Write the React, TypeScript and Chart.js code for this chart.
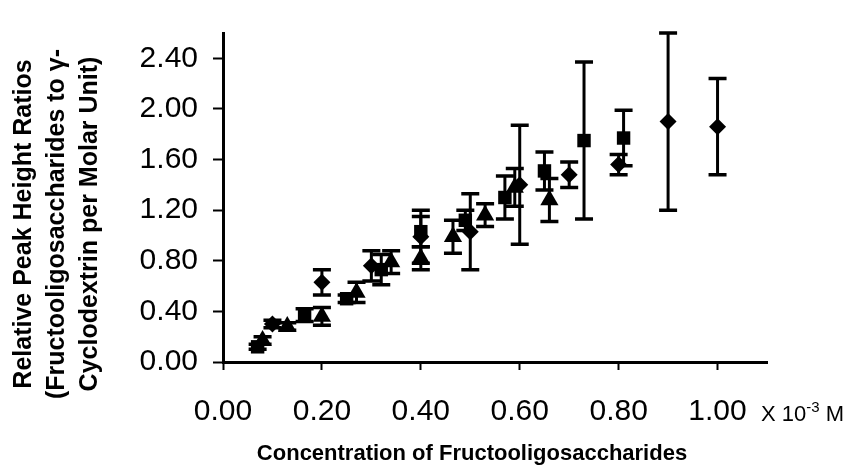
import React, { useEffect, useRef } from 'react';
import { Chart, registerables } from 'chart.js';
Chart.register(...registerables);

const xTickValues = [0, 0.2, 0.4, 0.6, 0.8, 1.0];
const yTickValues = [0, 0.4, 0.8, 1.2, 1.6, 2.0, 2.4];

const diamondX = [0.10, 0.20, 0.30, 0.40, 0.50, 0.60, 0.70, 0.80, 0.90, 1.00];
const diamondY = [0.30, 0.63, 0.76, 0.99, 1.03, 1.40, 1.48, 1.56, 1.90, 1.86];
const diamondErr = [0.03, 0.10, 0.12, 0.21, 0.30, 0.47, 0.10, 0.08, 0.70, 0.38];

const squareX = [0.07, 0.165, 0.25, 0.32, 0.40, 0.49, 0.57, 0.65, 0.73, 0.81];
const squareY = [0.12, 0.37, 0.50, 0.73, 1.03, 1.12, 1.30, 1.51, 1.75, 1.77];
const squareErr = [0.02, 0.05, 0.03, 0.12, 0.12, 0.08, 0.17, 0.15, 0.62, 0.22];

const triangleX = [0.08, 0.13, 0.20, 0.27, 0.34, 0.40, 0.465, 0.53, 0.59, 0.66];
const triangleY = [0.17, 0.28, 0.36, 0.55, 0.79, 0.82, 0.99, 1.16, 1.38, 1.28];
const triangleErr = [0.03, 0.03, 0.07, 0.08, 0.09, 0.09, 0.13, 0.09, 0.15, 0.17];

const yTitleLines = ['Relative Peak Height Ratios', '(Fructooligosaccharides to \u03B3-', 'Cyclodextrin per Molar Unit)'];
const xTitle = 'Concentration of Fructooligosaccharides';

const FONT = '"Liberation Sans", Arial, Helvetica, sans-serif';

const errorBars = {
  id: 'errorBars',
  beforeDatasetsDraw(chart: any) {
    const { ctx, scales } = chart;
    const x = scales.x, y = scales.y;
    ctx.save();
    ctx.strokeStyle = '#000';
    ctx.lineCap = 'butt';
    chart.data.datasets.forEach((ds: any) => {
      ds.data.forEach((p: any, i: number) => {
        const e = ds.errors[i];
        const px = x.getPixelForValue(p.x);
        const top = y.getPixelForValue(p.y + e);
        const bot = y.getPixelForValue(p.y - e);
        ctx.lineWidth = 3;
        ctx.beginPath();
        ctx.moveTo(px, top);
        ctx.lineTo(px, bot);
        ctx.stroke();
        ctx.lineWidth = 3.5;
        ctx.beginPath();
        ctx.moveTo(px - 9, top);
        ctx.lineTo(px + 9, top);
        ctx.moveTo(px - 9, bot);
        ctx.lineTo(px + 9, bot);
        ctx.stroke();
      });
    });
    ctx.restore();
  },
};

const texts = {
  id: 'texts',
  afterDraw(chart: any) {
    const { ctx } = chart;
    ctx.save();
    ctx.fillStyle = '#000';
    ctx.font = `bold 25px ${FONT}`;
    ctx.textAlign = 'center';
    ctx.textBaseline = 'middle';
    const xs = [24, 57, 90];
    yTitleLines.forEach((line, i) => {
      ctx.save();
      ctx.translate(xs[i], 224);
      ctx.rotate(-Math.PI / 2);
      ctx.fillText(line, 0, 0);
      ctx.restore();
    });
    ctx.font = `bold 22px ${FONT}`;
    ctx.fillText(xTitle, 472, 454);
    ctx.textAlign = 'left';
    ctx.textBaseline = 'alphabetic';
    let cx = 761;
    const base = 421;
    ctx.font = `22px ${FONT}`;
    ctx.fillText('X 10', cx, base);
    cx += ctx.measureText('X 10').width;
    ctx.font = `15px ${FONT}`;
    ctx.fillText('-3', cx, base - 9);
    cx += ctx.measureText('-3').width;
    ctx.font = `22px ${FONT}`;
    ctx.fillText(' M', cx, base);
    ctx.restore();
  },
};

function pts(xs: number[], ys: number[]) {
  return xs.map((x, i) => ({ x, y: ys[i] }));
}

export default function App() {
  const ref = useRef<HTMLCanvasElement>(null);
  useEffect(() => {
    const canvas = ref.current!;
    const chart = new Chart(canvas, {
      type: 'scatter',
      data: {
        datasets: [
          {
            label: 'diamond',
            data: pts(diamondX, diamondY),
            errors: diamondErr,
            pointStyle: 'rectRot',
            pointRadius: 8.5,
            backgroundColor: '#000',
            borderColor: '#000',
            borderWidth: 0,
          } as any,
          {
            label: 'square',
            data: pts(squareX, squareY),
            errors: squareErr,
            pointStyle: 'rect',
            pointRadius: 9.5,
            backgroundColor: '#000',
            borderColor: '#000',
            borderWidth: 0,
          } as any,
          {
            label: 'triangle',
            data: pts(triangleX, triangleY),
            errors: triangleErr,
            pointStyle: 'triangle',
            pointRadius: 10.5,
            backgroundColor: '#000',
            borderColor: '#000',
            borderWidth: 0,
          } as any,
        ],
      },
      options: {
        responsive: false,
        animation: false,
        events: [],
        layout: { padding: { top: 15, right: 95, left: 0, bottom: 0 } },
        plugins: { legend: { display: false }, tooltip: { enabled: false } },
        scales: {
          x: {
            type: 'linear',
            min: 0,
            max: 1.1,
            afterFit: (s: any) => { s.height = 106; },
            afterBuildTicks: (s: any) => { s.ticks = xTickValues.map((v) => ({ value: v })); },
            ticks: {
              includeBounds: false,
              callback: (v: any) => Number(v).toFixed(2),
              font: { size: 30, family: FONT },
              color: '#000',
              padding: 24,
              maxRotation: 0,
            },
            grid: { drawOnChartArea: false, drawTicks: true, tickLength: 8, tickColor: '#000', tickWidth: 2 },
            border: { display: true, color: '#000', width: 3 },
          },
          y: {
            type: 'linear',
            min: 0,
            max: 2.6,
            afterFit: (s: any) => { s.width = 223; },
            afterBuildTicks: (s: any) => { s.ticks = yTickValues.map((v) => ({ value: v })); },
            ticks: {
              includeBounds: false,
              callback: (v: any) => Number(v).toFixed(2),
              font: { size: 30, family: FONT },
              color: '#000',
              padding: 15,
            },
            grid: { drawOnChartArea: false, drawTicks: true, tickLength: 10, tickColor: '#000', tickWidth: 2 },
            border: { display: true, color: '#000', width: 3 },
          },
        },
      } as any,
      plugins: [errorBars, texts],
    });
    return () => chart.destroy();
  }, []);
  return (
    <div style={{ position: 'absolute', left: 0, top: 0, width: 862, height: 468, background: '#fff' }}>
      <canvas ref={ref} width={862} height={468} />
    </div>
  );
}
